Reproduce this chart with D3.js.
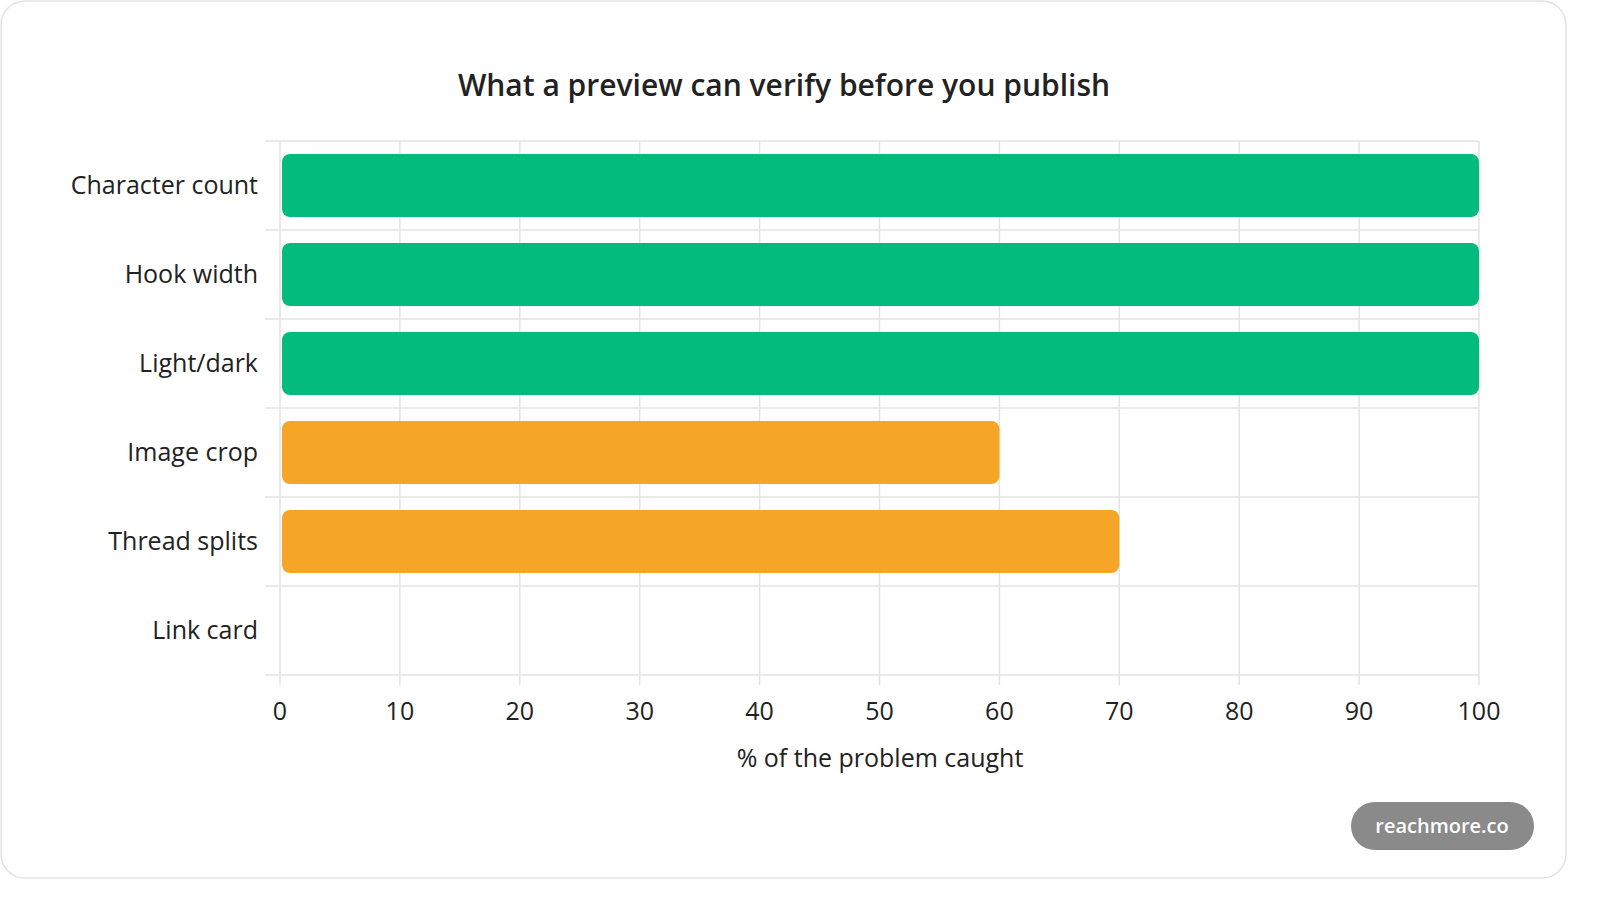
<!DOCTYPE html>
<html><head><meta charset="utf-8">
<script src="https://cdn.jsdelivr.net/npm/d3@7"></script>
<style>body{margin:0;background:#fff;font-family:"Open Sans","Noto Sans",sans-serif}</style>
</head><body><div id="chart"></div>
<script>
var categories = ["Character count","Hook width","Light/dark","Image crop","Thread splits","Link card"];
var values = [100,100,100,60,70,0];
var colors = ["#02BB7D","#02BB7D","#02BB7D","#F5A626","#F5A626","#F5A626"];
var ticks = [0,10,20,30,40,50,60,70,80,90,100];

var W = 1600, H = 898;
var svg = d3.select("#chart").append("svg").attr("width", W).attr("height", H);

svg.append("rect").attr("x",1).attr("y",1).attr("width",1565).attr("height",877)
    .attr("rx",24).attr("fill","#fff").attr("stroke","#e3e3e3").attr("stroke-width",1.5);

svg.append("text").attr("x",784).attr("y",96).attr("text-anchor","middle")
    .attr("font-size",30).attr("font-weight",600).attr("fill","#222")
    .text("What a preview can verify before you publish");

var x = d3.scaleLinear().domain([0,100]).range([280,1479]);
var y = d3.scaleBand().domain(categories).range([141,675]).paddingInner(0.29).paddingOuter(0.145);
var step = y.step();

var grid = svg.append("g").attr("stroke","#e3e3e3").attr("stroke-width",1.5);
ticks.forEach(function(t){
    grid.append("line").attr("x1",x(t)).attr("x2",x(t)).attr("y1",141).attr("y2",685);
});
d3.range(categories.length+1).forEach(function(i){
    var yy = 141 + i*step;
    grid.append("line").attr("x1",265).attr("x2",1479).attr("y1",yy).attr("y2",yy);
});

svg.selectAll(".bar").data(values).enter().append("rect")
    .attr("x", x(0)+2)
    .attr("y", function(d,i){ return y(categories[i]); })
    .attr("width", function(d){ return Math.max(0, x(d)-x(0)-2); })
    .attr("height", y.bandwidth())
    .attr("rx",8)
    .attr("fill", function(d,i){ return colors[i]; })
    .style("display", function(d){ return d>0 ? null : "none"; });

svg.selectAll(".cat").data(categories).enter().append("text")
    .attr("x",258).attr("y", function(d){ return y(d)+y.bandwidth()/2; })
    .attr("dy","0.35em").attr("text-anchor","end")
    .attr("font-size",25).attr("fill","#222").text(function(d){ return d; });

svg.selectAll(".tick").data(ticks).enter().append("text")
    .attr("x", function(d){ return x(d); }).attr("y",720)
    .attr("text-anchor","middle").attr("font-size",25).attr("fill","#222")
    .text(function(d){ return d; });

svg.append("text").attr("x",880).attr("y",767).attr("text-anchor","middle")
    .attr("font-size",25).attr("fill","#222").text("% of the problem caught");

svg.append("rect").attr("x",1351).attr("y",802).attr("width",183).attr("height",48)
    .attr("rx",24).attr("fill","#8a8a8a");
svg.append("text").attr("x",1442).attr("y",826).attr("dy","0.35em").attr("text-anchor","middle")
    .attr("font-size",20).attr("font-weight",600).attr("fill","#fff").text("reachmore.co");
</script></body></html>
